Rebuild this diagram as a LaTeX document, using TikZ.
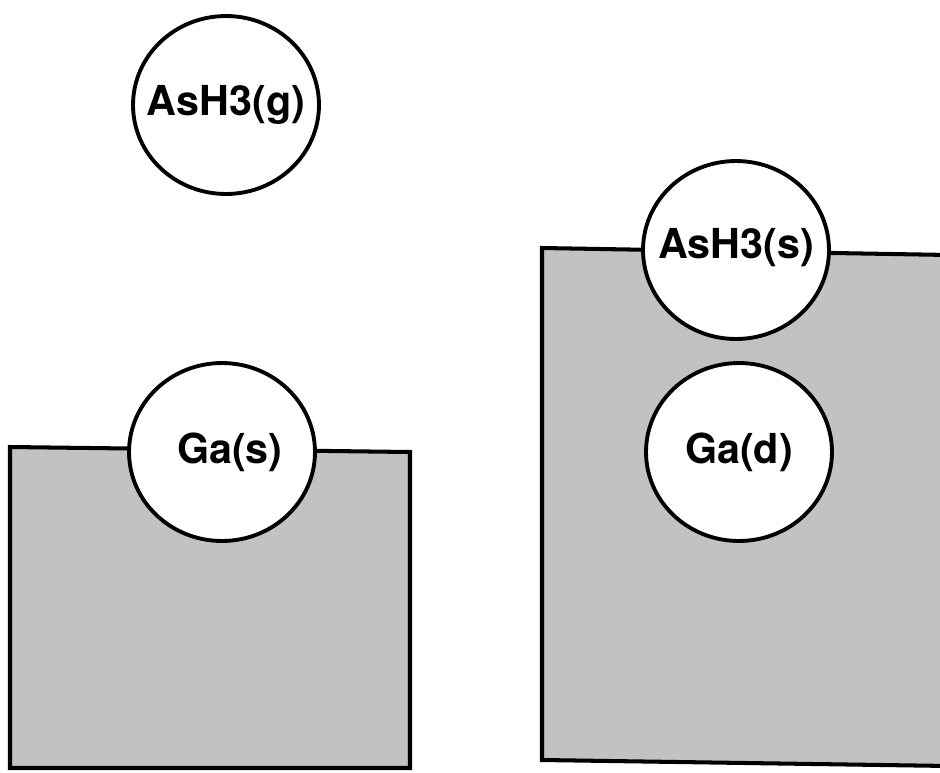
\documentclass[tikz,border=0pt]{standalone}
\usepackage{fontspec}
\setmainfont{TeX Gyre Heros}
\usetikzlibrary{shapes.geometric}
\tikzset{
  molecule/.style={ellipse, draw=black, line width=2.2pt, fill=white,
    minimum width=3.72cm, minimum height=3.56cm, inner sep=0pt,
    font=\fontsize{23.5}{28}\selectfont\bfseries},
  substrate/.style={draw=black, line width=2.3pt, line join=miter}
}
% text that does not widen the molecule
\newcommand{\moltext}[1]{\makebox[0pt]{#1}}

\begin{document}
\begin{tikzpicture}[x=0.02cm, y=-0.02cm]
    \useasboundingbox (0,0) rectangle (940,772);
    \clip (0,0) rectangle (940,772);

    % Corners of the two substrates
    \coordinate (gatl) at (10,447);
    \coordinate (gatr) at (410,452);
    \coordinate (gabr) at (410,768);
    \coordinate (gabl) at (10,768);
    \coordinate (gdtl) at (542,248);
    \coordinate (gdtr) at (950,255);
    \coordinate (gdbr) at (950,766);
    \coordinate (gdbl) at (542,760);

    % Left substrate
    \fill[black!24] (gatl) -- (gatr) -- (gabr) -- (gabl) -- cycle;
    \draw[substrate] (gatl) -- (gatr) -- (gabr) -- (gabl) -- cycle;

    % Right substrate (runs off the right edge)
    \fill[black!24] (gdtl) -- (gdtr) -- (gdbr) -- (gdbl) -- cycle;
    \draw[substrate] (gdtr) -- (gdtl) -- (gdbl) -- (gdbr);

    % Molecules
    \node[molecule] (asg) at (226,105) {\moltext{AsH3(g)}};
    \node[molecule] (gas) at (222,452) {\moltext{\hspace{9pt}Ga(s)}};
    \node[molecule] (ass) at (736,250) {\moltext{\raisebox{7pt}{AsH3(s)}}};
    \node[molecule] (gad) at (739,452) {\moltext{Ga(d)}};

\end{tikzpicture}
\end{document}
